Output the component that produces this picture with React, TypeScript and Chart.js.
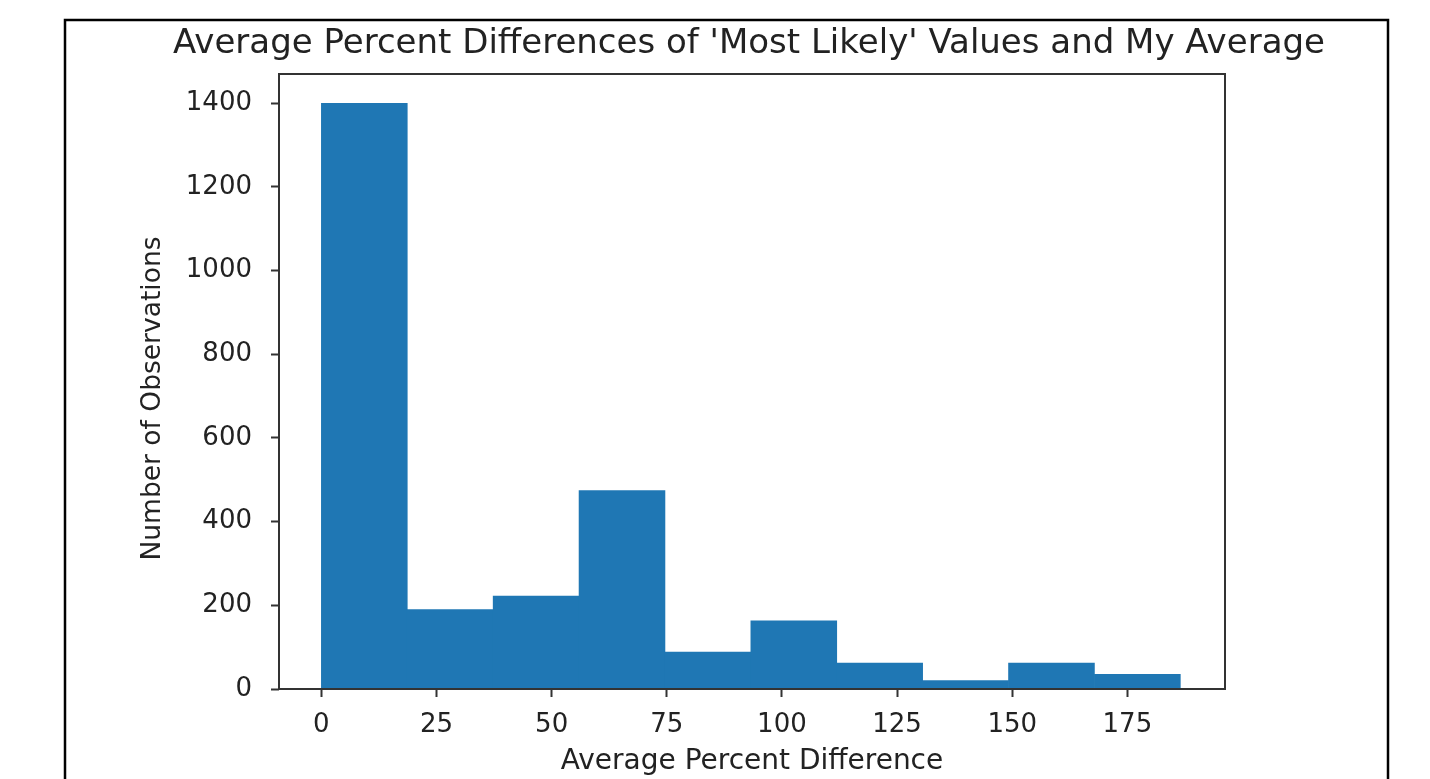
import React, { useEffect, useRef } from "react";
import { Chart, registerables } from "chart.js";

Chart.register(...registerables);

// Histogram bin edges (Average Percent Difference) and counts
const binEdges = [0, 18.65, 37.3, 55.95, 74.6, 93.25, 111.9, 130.55, 149.2, 167.85, 186.5];
const counts = [1400, 190, 222, 474, 88, 163, 62, 20, 62, 35];
const xTickValues = [0, 25, 50, 75, 100, 125, 150, 175];
const yTickValues = [0, 200, 400, 600, 800, 1000, 1200, 1400];
const chartTitle = "Average Percent Differences of 'Most Likely' Values and My Average";
const xAxisTitle = "Average Percent Difference";
const yAxisTitle = "Number of Observations";

const FONT = "'DejaVu Sans', 'Liberation Sans', sans-serif";
const TEXT = "#222222";
const SPINE = "#333333";

const framePlugin = {
  id: "frames",
  afterDatasetsDraw(chart: any) {
    const { ctx, chartArea: a } = chart;
    ctx.save();
    ctx.strokeStyle = SPINE;
    ctx.lineWidth = 2;
    ctx.strokeRect(a.left, a.top, a.right - a.left, a.bottom - a.top);
    ctx.restore();
  },
  afterDraw(chart: any) {
    const { ctx, chartArea: a } = chart;
    ctx.save();
    // y-axis label
    ctx.fillStyle = TEXT;
    ctx.font = `26.5px ${FONT}`;
    ctx.textAlign = "center";
    ctx.textBaseline = "middle";
    ctx.translate(153, (a.top + a.bottom) / 2 + 17);
    ctx.rotate(-Math.PI / 2);
    ctx.fillText(yAxisTitle, 0, 0);
    ctx.restore();
    ctx.save();
    ctx.strokeStyle = "#000000";
    ctx.lineWidth = 2.5;
    ctx.strokeRect(65, 20, 1323, 800);
    ctx.restore();
  },
};

export default function App() {
  const canvasRef = useRef<HTMLCanvasElement | null>(null);

  useEffect(() => {
    const canvas = canvasRef.current;
    if (!canvas) return;
    const points = counts.map((c, i) => ({ x: (binEdges[i] + binEdges[i + 1]) / 2, y: c }));
    const chart = new Chart(canvas, {
      type: "bar",
      data: {
        datasets: [
          {
            data: points as any,
            backgroundColor: "#1f77b4",
            borderColor: "#1f77b4",
            borderWidth: 0,
            barPercentage: 1,
            categoryPercentage: 1,
          },
        ],
      },
      options: {
        responsive: false,
        animation: false,
        devicePixelRatio: 1,
        layout: { padding: { left: 68, right: 0, top: 0, bottom: 0 } },
        plugins: {
          legend: { display: false },
          tooltip: { enabled: false },
          title: {
            display: true,
            text: chartTitle,
            fullSize: true,
            color: TEXT,
            font: { family: FONT, size: 34, weight: "normal", lineHeight: 1.2 },
            padding: { top: 24, bottom: 9.2 },
          },
        },
        scales: {
          x: {
            type: "linear",
            offset: false,
            min: -9.2,
            max: 196.2,
            afterFit: (s: any) => {
              s.height = 90;
            },
            afterBuildTicks: (s: any) => {
              s.ticks = xTickValues.map((v) => ({ value: v }));
            },
            grid: {
              display: true,
              offset: false,
              drawOnChartArea: false,
              drawTicks: true,
              tickLength: 8,
              tickWidth: 2,
              tickColor: SPINE,
            },
            border: { display: false },
            ticks: {
              color: TEXT,
              font: { family: FONT, size: 26 },
              padding: 13,
              maxRotation: 0,
              autoSkip: false,
              callback: (v: any) => String(v),
            },
            title: {
              display: true,
              text: xAxisTitle,
              color: TEXT,
              font: { family: FONT, size: 28 },
              padding: { top: 0, bottom: 0 },
            },
          },
          y: {
            type: "linear",
            position: "left",
            min: 0,
            max: 1470,
            afterFit: (s: any) => {
              s.width = 211;
            },
            afterBuildTicks: (s: any) => {
              s.ticks = yTickValues.map((v) => ({ value: v }));
            },
            grid: {
              display: true,
              drawOnChartArea: false,
              drawTicks: true,
              tickLength: 8,
              tickWidth: 2,
              tickColor: SPINE,
            },
            border: { display: false },
            ticks: {
              color: TEXT,
              font: { family: FONT, size: 26 },
              padding: 19,
              autoSkip: false,
              callback: (v: any) => String(v),
            },
            title: { display: false },
          },
          yRight: {
            type: "linear",
            position: "right",
            display: true,
            min: 0,
            max: 1470,
            afterFit: (s: any) => {
              s.width = 205;
            },
            grid: { display: false, drawTicks: false },
            border: { display: false },
            ticks: { display: false },
          },
        },
      },
      plugins: [framePlugin],
    });
    return () => chart.destroy();
  }, []);

  return (
    <div style={{ position: "absolute", left: 0, top: 0, width: 1430, height: 779, background: "#ffffff" }}>
      <canvas ref={canvasRef} width={1430} height={779} style={{ display: "block" }} />
    </div>
  );
}
